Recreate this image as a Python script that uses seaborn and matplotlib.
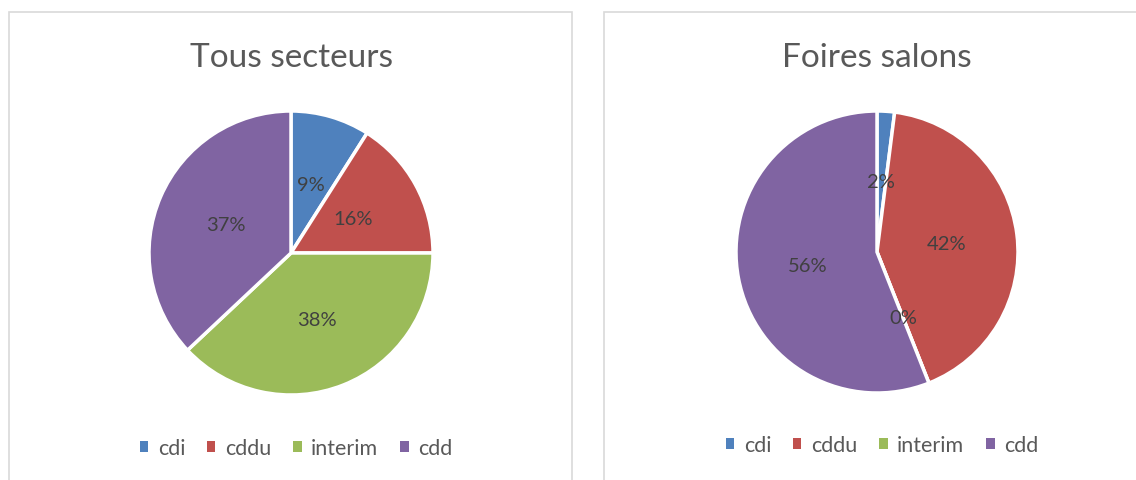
import matplotlib
matplotlib.use("Agg")
import matplotlib.pyplot as plt
import seaborn as sns
from matplotlib.patches import Rectangle, Patch

# data
categories = ["cdi", "cddu", "interim", "cdd"]
tous_secteurs = [9, 16, 38, 37]
foires_salons = [2, 42, 0, 56]
titles = ["Tous secteurs", "Foires salons"]

sns.set_theme(style="white")
plt.rcParams['font.family'] = ['Lato', 'DejaVu Sans']

colors = ["#4F81BD", "#C0504D", "#9BBB59", "#8064A2"]
W, H = 1136, 481

fig = plt.figure(figsize=(W / 100, H / 100), dpi=100)

# chart frames (Excel style)
for x0, x1 in [(9, 572), (604, 1145)]:
    fig.patches.append(Rectangle((x0 / W, -0.1), (x1 - x0) / W, (H - 13) / H + 0.1,
                                 transform=fig.transFigure, fill=False,
                                 edgecolor="#D9D9D9", linewidth=1.2))


def draw_pie(values, title, cx, cy, r, legend_x, legend_y):
    ax = fig.add_axes([(cx - r) / W, (H - cy - r) / H, 2 * r / W, 2 * r / H])
    wedges, texts, autotexts = ax.pie(
        values, colors=colors, startangle=90, counterclock=False,
        autopct=lambda p: f"{p:.0f}%", pctdistance=0.5,
        wedgeprops=dict(edgecolor="white", linewidth=2.5),
        textprops=dict(color="#404040", fontsize=14.5))
    ax.set_xlim(-1, 1)
    ax.set_ylim(-1, 1)
    fig.text(cx / W, (H - 58) / H, title, ha="center", va="center",
             fontsize=24, color="#595959")
    handles = [Patch(facecolor=c, edgecolor="none") for c in colors]
    fig.legend(handles, categories, loc="center", ncol=4,
               bbox_to_anchor=(legend_x / W, (H - legend_y) / H), frameon=False,
               fontsize=15.5, labelcolor="#595959", handlelength=0.4,
               handleheight=0.4, handletextpad=0.45, columnspacing=1.0)


draw_pie(tous_secteurs, titles[0], 291, 254, 142, 296, 449)
draw_pie(foires_salons, titles[1], 877, 253, 141, 882, 446)

fig.savefig("out.png", dpi=100, facecolor="white")
